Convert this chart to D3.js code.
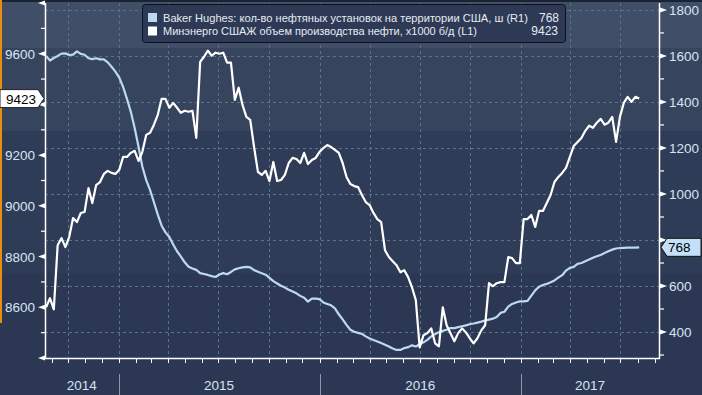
<!DOCTYPE html>
<html><head><meta charset="utf-8">
<script src="https://cdn.jsdelivr.net/npm/d3@7"></script>
<style>html,body{margin:0;padding:0;background:#2d3a55;overflow:hidden}</style>
</head><body><svg id="c" width="702" height="395"></svg>
<script>
// ---------- DATA ----------
const firstWeek = "2014-08-22"; // weekly observations (Fridays)
const productionValues = [
8600,8636,8592,8845,8873,8837,8877,8952,8936,8972,
8976,9070,9011,9082,9094,9126,9138,9130,9126,9142,
9193,9193,9209,9217,9177,9213,9280,9288,9320,9359,
9422,9422,9387,9406,9387,9367,9375,9371,9375,9268,
9568,9588,9612,9592,9604,9600,9604,9565,9565,9418,
9466,9398,9351,9339,9232,9134,9122,9138,9098,9173,
9098,9102,9122,9169,9189,9185,9169,9209,9165,9181,
9189,9213,9228,9240,9232,9221,9209,9169,9114,9086,
9078,9074,9043,9015,9003,8972,8948,8936,8825,8798,
8782,8766,8738,8746,8719,8679,8628,8442,8490,8498,
8517,8458,8446,8600,8529,8498,8466,8498,8517,8501,
8478,8458,8478,8509,8529,8695,8683,8695,8699,8699,
8798,8794,8774,8774,8948,8948,8964,8917,8980,8980,
9011,9043,9094,9114,9130,9150,9193,9236,9252,9268,
9296,9316,9308,9328,9343,9320,9328,9351,9252,9351,
9406,9430,9410,9430,9423];
const rigValues = [
1600,1580,1591,1600,1610,1611,1604,1606,1620,1609,
1605,1590,1586,1590,1585,1585,1572,1553,1532,1506,
1465,1413,1357,1287,1205,1118,1060,1017,964,910,
862,833,813,780,751,728,703,684,676,670,
656,652,648,643,639,650,656,651,661,672,
677,681,683,681,669,662,655,649,635,621,
611,601,593,584,576,568,557,549,532,545,
545,543,528,522,516,503,477,455,431,410,
401,396,392,381,372,365,359,352,345,337,
328,322,322,330,334,342,337,347,355,366,
381,391,399,405,410,417,417,421,425,429,
434,437,441,445,450,454,458,465,483,488,
510,522,528,533,533,535,558,581,597,604,
609,616,624,636,647,667,679,683,696,700,
708,715,723,729,735,743,751,758,763,765,
766,767,767,767,768];
const leftMajorTicks = [8400,8600,8800,9000,9200,9400,9600,9800];
const leftLabelTicks = [8600,8800,9000,9200,9600];   // 9400 is hidden under the last-value tag
const leftMinorTicks = [8500,8700,8900,9100,9300,9500,9700];
const rightMajorTicks = [400,600,800,1000,1200,1400,1600,1800];
const rightLabelTicks = [400,600,1000,1200,1400,1600,1800]; // 800 is hidden under the last-value tag
const rightMinorTicks = [300,500,700,900,1100,1300,1500,1700];
const years = [2014,2015,2016,2017];
const legendNames = [
  "Baker Hughes: кол-во нефтяных установок на территории США, ш (R1)",
  "Минэнерго СШАЖ объем производства нефти, x1000 б/д (L1)"];
const legendValues = ["768","9423"];
const lastRig = 768, lastProd = 9423;

// ---------- SETUP ----------
const W = 702, H = 395;
const L = 45, R = 659, T = 3, B = 358;
const svg = d3.select("#c");
const parse = d3.utcParse("%Y-%m-%d");
const start = parse(firstWeek);
const dates = productionValues.map((_, i) => d3.utcDay.offset(start, 7 * i));

const x = d3.scaleUtc().domain([parse("2014-08-20"), parse("2017-09-09")]).range([L, R]);
const yL = d3.scaleLinear().domain([8400, 9800]).range([B, T]);
const yR = d3.scaleLinear().domain([287, 1830]).range([B, T]);

// background bands
const bands = [[0,48,"#414e68"],[48,131,"#37445e"],[131,273,"#2f3c57"],[273,395,"#2c3853"]];
svg.selectAll("rect.band").data(bands).join("rect")
  .attr("x",0).attr("width",W).attr("y",d=>d[0]).attr("height",d=>d[1]-d[0]).attr("fill",d=>d[2]);
svg.append("rect").attr("x",0).attr("y",0).attr("width",W).attr("height",2).attr("fill","#1b2231");
svg.append("rect").attr("x",0).attr("y",0).attr("width",2).attr("height",323).attr("fill","#e8900c");

const font = "'Liberation Sans', Arial, sans-serif";
const grid = svg.append("g").attr("stroke","#58748d").attr("stroke-width",1).attr("stroke-dasharray","3,3");
rightMajorTicks.forEach(v => {
  grid.append("line").attr("x1",L).attr("x2",R).attr("y1",Math.round(yR(v))+0.5).attr("y2",Math.round(yR(v))+0.5);
});
const quarters = d3.utcMonth.every(3).range(x.domain()[0], x.domain()[1]);
quarters.forEach(d => {
  const xx = Math.round(x(d)) + 0.5;
  grid.append("line").attr("x1",xx).attr("x2",xx).attr("y1",T).attr("y2",B);
});

// axes lines
svg.append("line").attr("x1",L+0.5).attr("x2",L+0.5).attr("y1",T).attr("y2",B+1).attr("stroke","#fff").attr("stroke-width",1.5);
svg.append("line").attr("x1",R+0.5).attr("x2",R+0.5).attr("y1",T).attr("y2",B+1).attr("stroke","#fff").attr("stroke-width",1.5);
svg.append("line").attr("x1",L).attr("x2",R+1).attr("y1",B+0.5).attr("y2",B+0.5).attr("stroke","#fff").attr("stroke-width",1.5);

// left ticks
leftMajorTicks.forEach(v => {
  const yy = yL(v);
  svg.append("path").attr("d",`M${L},${yy-2.5}L${L-7},${yy}L${L},${yy+2.5}Z`).attr("fill","#fff");
});
leftLabelTicks.forEach(v => {
  svg.append("text").attr("x",35).attr("y",yL(v)+5).attr("text-anchor","end")
    .attr("font-family",font).attr("font-size",13.5).attr("fill","#d6e4f2").text(v);
});
leftMinorTicks.forEach(v => {
  svg.append("line").attr("x1",L-4).attr("x2",L).attr("y1",yL(v)).attr("y2",yL(v)).attr("stroke","#fff").attr("stroke-width",1.2);
});
// right ticks
rightMajorTicks.forEach(v => {
  const yy = yR(v);
  svg.append("path").attr("d",`M${R+1},${yy-2.5}L${R+8},${yy}L${R+1},${yy+2.5}Z`).attr("fill","#fff");
});
rightLabelTicks.forEach(v => {
  svg.append("text").attr("x",669).attr("y",yR(v)+5).attr("text-anchor","start")
    .attr("font-family",font).attr("font-size",13.5).attr("fill","#d6e4f2").text(v);
});
rightMinorTicks.forEach(v => {
  svg.append("line").attr("x1",R+1).attr("x2",R+5).attr("y1",yR(v)).attr("y2",yR(v)).attr("stroke","#fff").attr("stroke-width",1.2);
});
// bottom monthly ticks
d3.utcMonth.range(x.domain()[0], x.domain()[1]).forEach(d => {
  const xx = Math.round(x(d)) + 0.5;
  svg.append("line").attr("x1",xx).attr("x2",xx).attr("y1",B).attr("y2",B+5).attr("stroke","#fff").attr("stroke-width",1);
});
// year separators and labels
years.forEach(yv => {
  const y0 = parse(yv + "-01-01"), y1 = parse((yv + 1) + "-01-01");
  const a = Math.max(x(y0), L), b = Math.min(x(y1), R);
  if (x(y0) > L) {
    const xx = Math.round(x(y0)) + 0.5;
    svg.append("line").attr("x1",xx).attr("x2",xx).attr("y1",374).attr("y2",H).attr("stroke","#8d97aa").attr("stroke-width",1);
  }
  svg.append("text").attr("x",(a+b)/2).attr("y",390).attr("text-anchor","middle")
    .attr("font-family",font).attr("font-size",13.5).attr("fill","#d6e4f2").text(yv);
});

// lines
svg.append("clipPath").attr("id","pc").append("rect").attr("x",L).attr("y",T).attr("width",R-L).attr("height",B-T);
const lineR = d3.line().x((d,i)=>x(dates[i])).y(d=>yR(d));
const lineL = d3.line().x((d,i)=>x(dates[i])).y(d=>yL(d));
svg.append("path").datum(rigValues).attr("d",lineR).attr("fill","none").attr("stroke","#bcd9f4").attr("stroke-width",2.2).attr("stroke-linejoin","round").attr("clip-path","url(#pc)");
svg.append("path").datum(productionValues).attr("d",lineL).attr("fill","none").attr("stroke","#ffffff").attr("stroke-width",2.2).attr("stroke-linejoin","round").attr("clip-path","url(#pc)");

// last value tags
const yp = yL(lastProd);
svg.append("path").attr("d",`M0,${yp-9}L38,${yp-9}L44,${yp}L38,${yp+9}L0,${yp+9}Z`).attr("fill","#fff").attr("stroke","#222").attr("stroke-width",1);
svg.append("text").attr("x",21).attr("y",yp+5).attr("text-anchor","middle").attr("font-family",font).attr("font-size",13.5).attr("fill","#000").text(lastProd);
const yr = yR(lastRig);
svg.append("path").attr("d",`M661,${yr}L667,${yr-9}L701,${yr-9}L701,${yr+9}L667,${yr+9}Z`).attr("fill","#c4e0f8").attr("stroke","#111").attr("stroke-width",1);
svg.append("text").attr("x",668).attr("y",yr+5).attr("font-family",font).attr("font-size",13.5).attr("fill","#000").text(lastRig);

// legend
const lg = svg.append("g");
lg.append("rect").attr("x",142.5).attr("y",4.5).attr("width",423).attr("height",38).attr("rx",3).attr("fill","#2e3a55").attr("stroke","#0d1018").attr("stroke-width",1);
const swatch = ["#bcd9f4","#ffffff"];
const legendWidths = [365, 314];
legendNames.forEach((n,i) => {
  const yy = 13 + i*13.5;
  lg.append("rect").attr("x",148).attr("y",yy).attr("width",9).attr("height",9).attr("fill",swatch[i]);
  lg.append("text").attr("x",163).attr("y",yy+8.5).attr("font-family",font).attr("font-size",11)
    .attr("textLength",legendWidths[i]).attr("lengthAdjust","spacingAndGlyphs").attr("fill","#e6ebf2").text(n);
  lg.append("text").attr("x",i === 0 ? 539 : 558).attr("y",yy+8.5).attr("text-anchor",i === 0 ? "start" : "end")
    .attr("font-family",font).attr("font-size",12).attr("fill","#e6ebf2").text(legendValues[i]);
});
</script>
</body></html>
